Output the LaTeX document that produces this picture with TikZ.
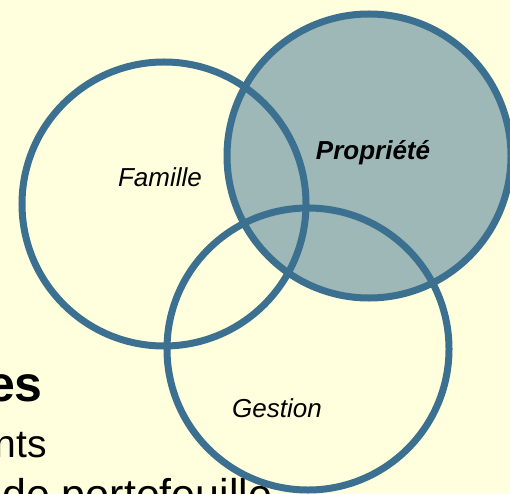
\documentclass[tikz,border=0pt]{standalone}
\usepackage{fontspec}
\setmainfont{Liberation Sans}
\definecolor{bgyellow}{RGB}{255,255,221}
\definecolor{ringblue}{RGB}{59,112,145}
\definecolor{propfill}{RGB}{157,184,182}
\begin{document}
\begin{tikzpicture}[x=1bp,y=-1bp,
  ring/.style={circle,draw=ringblue,line width=7bp,inner sep=0pt,minimum size=#1},
  lbl/.style={anchor=base,inner sep=0pt,font=\fontsize{26bp}{30bp}\selectfont\itshape},
  bodytext/.style={anchor=base east,inner sep=0pt,font=\fontsize{#1}{#1}\selectfont}]
\fill[bgyellow] (0,0) rectangle (510,494);
\useasboundingbox (0,0) rectangle (510,494);
% partial slide text
\node[anchor=base east,inner sep=0pt,font=\fontsize{50bp}{50bp}\selectfont\bfseries] (t1) at (43,401) {es};
\node[bodytext=39bp] (t2) at (47,457) {nts};
\node[anchor=base west,inner sep=0pt,font=\fontsize{43bp}{43bp}\selectfont] (t3) at (2,509) {de portefeuille};
% circles
\node[ring=284bp,fill=propfill] (prop) at (369,156) {};
\node[ring=284bp] (fam) at (164,204) {};
\node[ring=282bp] (gest) at (308,349) {};
% labels
\node[lbl] (lfam) at (160,187) {Famille};
\node[lbl,font=\fontsize{26bp}{30bp}\selectfont\bfseries\itshape] (lprop) at (373,160) {Propriété};
\node[lbl] (lgest) at (277,417) {Gestion};
\end{tikzpicture}
\end{document}
